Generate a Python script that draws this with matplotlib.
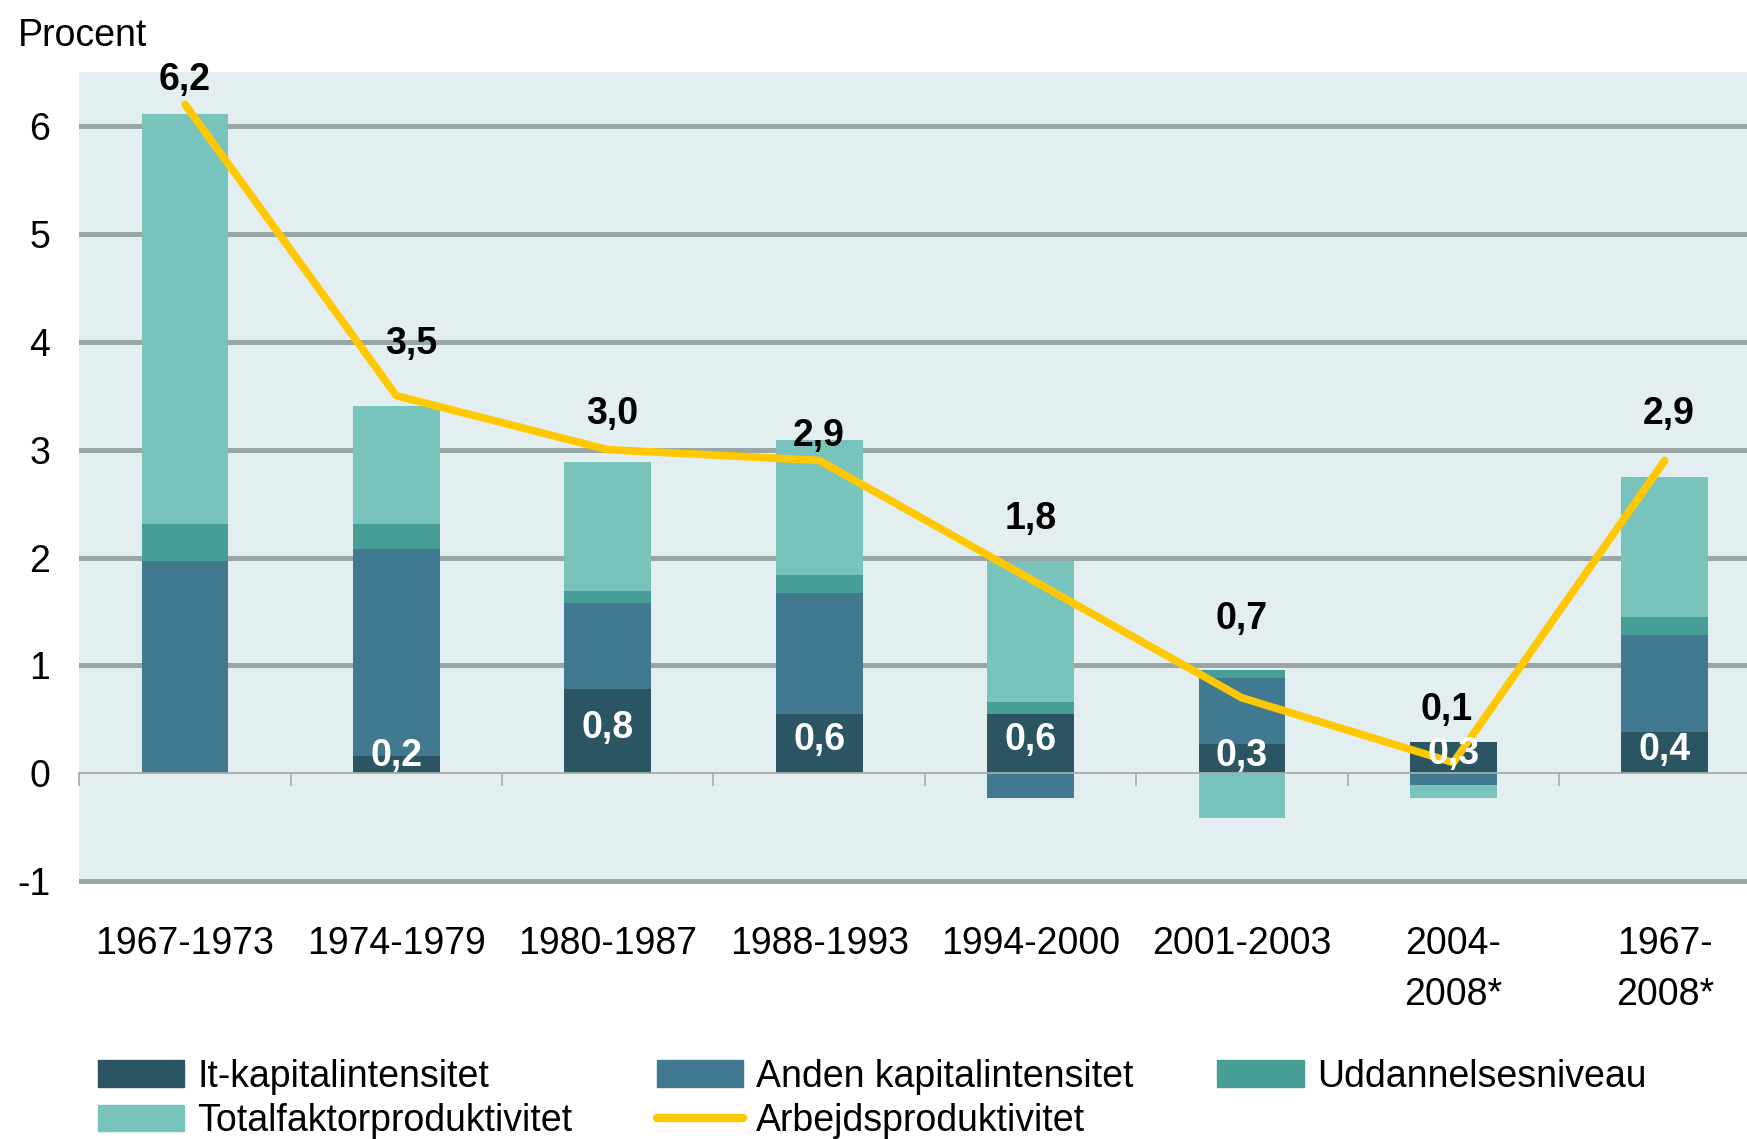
import numpy as np
import matplotlib
matplotlib.use("Agg")
import matplotlib.pyplot as plt
from matplotlib.patches import Patch
from matplotlib.lines import Line2D

plt.rcParams['font.family'] = ['Liberation Sans', 'DejaVu Sans']

# ---------------- data ----------------
categories = ['1967-1973', '1974-1979', '1980-1987', '1988-1993', '1994-2000',
              '2001-2003', '2004-\n2008*', '1967-\n2008*']
it_kap = [0.0, 0.16, 0.78, 0.55, 0.55, 0.27, 0.29, 0.38]
anden_kap = [1.97, 1.92, 0.80, 1.12, -0.23, 0.61, -0.11, 0.90]
uddannelse = [0.34, 0.23, 0.11, 0.17, 0.11, 0.08, 0.0, 0.17]
tfp = [3.80, 1.09, 1.20, 1.25, 1.31, -0.41, -0.12, 1.30]
arbejdsprod = [6.2, 3.5, 3.0, 2.9, 1.8, 0.7, 0.1, 2.9]
it_labels = ['', '0,2', '0,8', '0,6', '0,6', '0,3', '0,3', '0,4']
yticks = [-1, 0, 1, 2, 3, 4, 5, 6]

series_names = ['It-kapitalintensitet', 'Anden kapitalintensitet',
                'Uddannelsesniveau', 'Totalfaktorproduktivitet']
line_name = 'Arbejdsproduktivitet'

# ---------------- style ----------------
colors = ['#2C5564', '#417A90', '#479E97', '#78C3BC']
line_color = '#FFC800'
bg = '#E3EEF0'
grid_color = '#98A6A5'
axis_color = '#A3ADAD'
label_offsets = [0.23, 0.48, 0.33, 0.23, 0.56, 0.73, 0.49, 0.43]
label_xshift = [0.0, 0.07, 0.02, 0.0, 0.0, 0.0, -0.03, 0.02]
fs = 27

fig = plt.figure(figsize=(17.47, 11.39), dpi=100)
ax = fig.add_axes([0.0454, 0.2239, 0.968, 0.7129])
ax.set_facecolor(bg)
ax.set_axisbelow(True)

x = np.arange(len(categories))
width = 0.41
pos_bottom = np.zeros(len(x))
neg_bottom = np.zeros(len(x))
for vals, col in zip([it_kap, anden_kap, uddannelse, tfp], colors):
    v = np.array(vals, dtype=float)
    bottoms = np.where(v >= 0, pos_bottom, neg_bottom)
    ax.bar(x, v, width=width, bottom=bottoms, color=col, zorder=2, linewidth=0)
    pos_bottom = pos_bottom + np.where(v >= 0, v, 0)
    neg_bottom = neg_bottom + np.where(v < 0, v, 0)

ax.plot(x, arbejdsprod, color=line_color, lw=5.5, solid_capstyle='round',
        solid_joinstyle='round', zorder=3)

# labels on line
for xi, val, off, dx in zip(x, arbejdsprod, label_offsets, label_xshift):
    ax.text(xi + dx, val + off, f'{val:.1f}'.replace('.', ','), ha='center', va='center',
            fontsize=fs, fontweight='bold', color='black', zorder=5)

# white labels in it segments
for xi, val, lab in zip(x, it_kap, it_labels):
    if lab:
        ax.text(xi, max(val / 2, 0.13) + 0.03, lab, ha='center', va='center',
                fontsize=fs, fontweight='bold', color='white', zorder=4)

ax.set_xlim(-0.5, len(categories) - 0.5)
ax.set_ylim(-1.025, 6.5)
ax.set_yticks(yticks)
ax.set_yticklabels([str(t) for t in yticks], fontsize=fs)
ax.tick_params(axis='y', length=0, pad=21)
ax.yaxis.grid(True, color=grid_color, lw=3.6)
for t, loc in zip(ax.yaxis.get_major_ticks(), yticks):
    if loc == 0:
        t.gridline.set_visible(False)

for s in ['top', 'right', 'left']:
    ax.spines[s].set_visible(False)
ax.spines['bottom'].set_position(('data', 0))
ax.spines['bottom'].set_color(axis_color)
ax.spines['bottom'].set_linewidth(1.3)
ax.spines['bottom'].set_zorder(2.5)
ax.set_xticks(np.arange(-0.5, len(categories), 1.0))
ax.set_xticklabels([])
ax.tick_params(axis='x', direction='out', length=9.5, width=1.2, color=axis_color)

sec = ax.secondary_xaxis('bottom')
sec.set_xticks(x)
sec.set_xticklabels(categories, fontsize=fs, linespacing=1.55, va='top')
sec.tick_params(length=0, pad=30)
sec.spines['bottom'].set_visible(False)

fig.text(18 / 1747, 1 - 35.5 / 1139, 'Procent', fontsize=fs, ha='left', va='center')

handles = [Patch(color=colors[0]), Patch(color=colors[3]),
           Patch(color=colors[1]),
           Line2D([0], [0], color=line_color, lw=6, solid_capstyle='round'),
           Patch(color=colors[2])]
labels = [series_names[0], series_names[3], series_names[1], line_name, series_names[2]]
fig.legend(handles, labels, loc='upper left', bbox_to_anchor=(98 / 1747, 0.0703),
           ncol=3, frameon=False, fontsize=fs, borderpad=0, borderaxespad=0,
           handlelength=2.3, handleheight=0.72, handletextpad=0.35,
           labelspacing=0.22, columnspacing=2.24)

fig.savefig('out.png', dpi=100)
